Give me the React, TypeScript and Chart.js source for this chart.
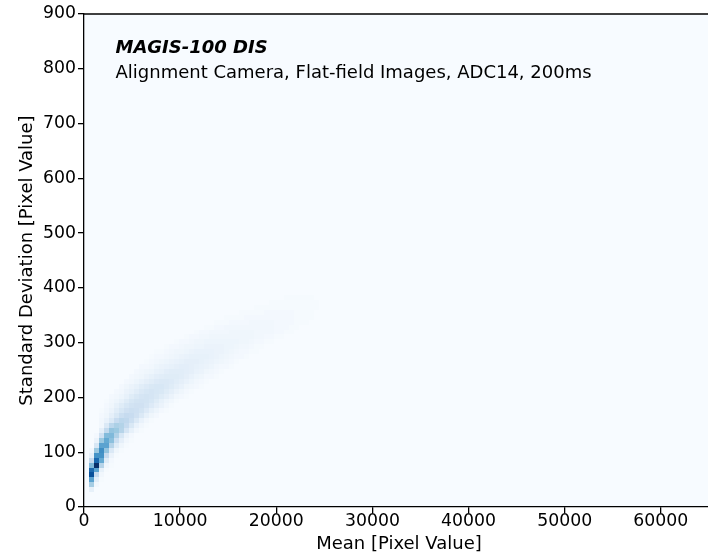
import React, { useEffect, useRef } from "react";
import { Chart, registerables } from "chart.js";

Chart.register(...registerables);

const FONT = "'DejaVu Sans', 'Liberation Sans', sans-serif";

// ---- axis ranges / ticks ----
const xAxisMin = 0;
const xAxisMax = 65535;
const yAxisMin = 0;
const yAxisMax = 900;
const xTickValues = [0, 10000, 20000, 30000, 40000, 50000, 60000];
const yTickValues = [0, 100, 200, 300, 400, 500, 600, 700, 800, 900];

// ---- 2D histogram bins ----
const meanBinWidth = 520; // Mean [Pixel Value] per bin
const stdBinWidth = 9; // Standard Deviation per bin

// index of each non-empty row of std bins
const rowStdBins = [
  3, 4, 5, 6, 7, 8, 9, 10, 11, 12, 13, 14, 15, 16, 17, 18, 19, 20, 21, 22,
  23, 24, 25, 26, 27, 28, 29, 30, 31, 32, 33, 34, 35, 36, 37, 38, 39, 40, 41, 42,
];
// first mean bin index that holds a value in each row
const rowFirstMeanBins = [
  1, 1, 1, 1, 1, 1, 1, 1, 1, 2, 2, 2, 3, 3, 3, 3, 3, 4, 4, 5,
  6, 7, 8, 9, 10, 11, 12, 13, 14, 16, 18, 20, 22, 24, 26, 28, 31, 34, 37, 40,
];
// relative counts (percent of the peak bin), consecutive mean bins from rowFirstMeanBins
const rowCounts = [
  [8],
  [35, 3],
  [55, 10, 1],
  [88, 25, 3],
  [78, 55, 8, 1],
  [45, 100, 30, 4, 1],
  [25, 78, 52, 12, 2],
  [8, 62, 62, 25, 6, 1],
  [3, 38, 64, 40, 14, 4, 1],
  [16, 55, 55, 30, 12, 4, 1],
  [6, 38, 52, 42, 22, 9, 3, 1],
  [2, 20, 44, 45, 32, 16, 6, 2],
  [9, 26, 40, 38, 30, 17, 8, 3, 1],
  [3, 14, 28, 33, 31, 25, 15, 7, 3, 1],
  [3, 7, 14, 24, 28, 27, 22, 14, 7, 3, 1],
  [2, 4, 9, 15, 22, 25, 24, 20, 14, 8, 4, 2],
  [1, 3, 6, 11, 16, 20, 22, 21, 18, 13, 8, 5, 2, 1],
  [2, 4, 8, 12, 16, 19, 20, 20, 17, 13, 9, 6, 3, 1],
  [1, 3, 5, 8, 12, 16, 18, 19, 18, 16, 12, 8, 5, 3, 1],
  [2, 3, 5, 8, 12, 15, 17, 18, 17, 15, 12, 9, 6, 3, 2, 1],
  [2, 3, 6, 8, 11, 14, 16, 17, 16, 15, 12, 9, 6, 4, 2, 1],
  [2, 4, 6, 8, 11, 13, 15, 16, 16, 14, 12, 9, 7, 4, 3, 2, 1],
  [2, 3, 5, 7, 9, 11, 13, 14, 14, 13, 11, 9, 7, 5, 3, 2, 1],
  [2, 3, 4, 6, 8, 10, 11, 12, 12, 12, 11, 9, 7, 5, 4, 2, 2, 1],
  [2, 3, 4, 5, 7, 8, 10, 11, 11, 11, 10, 9, 7, 6, 4, 3, 2, 1],
  [2, 2, 3, 5, 6, 7, 8, 9, 10, 10, 9, 8, 7, 6, 5, 3, 2, 2, 1],
  [1, 2, 3, 4, 5, 6, 7, 8, 9, 9, 9, 8, 7, 6, 5, 4, 3, 2, 1],
  [1, 2, 2, 3, 4, 5, 6, 7, 8, 8, 8, 8, 7, 6, 5, 4, 3, 2, 2, 1],
  [1, 1, 2, 3, 4, 4, 5, 6, 7, 7, 7, 7, 6, 6, 5, 4, 3, 2, 2, 1, 1],
  [1, 2, 2, 3, 4, 4, 5, 5, 6, 6, 6, 6, 5, 5, 4, 3, 3, 2, 1, 1],
  [1, 2, 2, 3, 4, 4, 5, 5, 5, 5, 5, 5, 5, 4, 4, 3, 2, 2, 1, 1],
  [1, 2, 2, 3, 3, 4, 4, 4, 4, 4, 4, 4, 4, 4, 3, 3, 2, 2, 1, 1],
  [1, 2, 2, 3, 3, 3, 3, 4, 4, 4, 4, 4, 3, 3, 3, 3, 2, 2, 1, 1],
  [1, 1, 2, 2, 3, 3, 3, 3, 3, 3, 3, 3, 3, 3, 2, 2, 2, 1, 1],
  [1, 1, 1, 2, 2, 2, 2, 3, 3, 3, 3, 3, 2, 2, 2, 2, 1, 1, 1],
  [1, 1, 1, 1, 2, 2, 2, 2, 2, 2, 2, 2, 2, 2, 1, 1, 1, 1],
  [1, 1, 1, 1, 1, 2, 2, 2, 2, 2, 2, 1, 1, 1, 1],
  [1, 1, 1, 1, 1, 1, 1, 1, 1, 1, 1, 1, 1],
  [1, 1, 1, 1, 1, 1, 1, 1, 1, 1],
  [1, 1, 1, 1, 1, 1],
];

// ---- texts ----
const titleText = "MAGIS-100 DIS";
const subtitleText = "Alignment Camera, Flat-field Images, ADC14, 200ms";
const xTitle = "Mean [Pixel Value]";
const yTitle = "Standard Deviation [Pixel Value]";

// matplotlib "Blues" anchor colours
const BLUES: number[][] = [
  [247, 251, 255],
  [222, 235, 247],
  [198, 219, 239],
  [158, 202, 225],
  [107, 174, 214],
  [66, 146, 198],
  [33, 113, 181],
  [8, 81, 156],
  [8, 48, 107],
];

function bluesColor(t: number): string {
  const s = Math.min(Math.max(t, 0), 1) * 8;
  const i = Math.min(Math.floor(s), 7);
  const f = s - i;
  const a = BLUES[i];
  const b = BLUES[i + 1];
  const r = Math.round(a[0] + (b[0] - a[0]) * f);
  const g = Math.round(a[1] + (b[1] - a[1]) * f);
  const bl = Math.round(a[2] + (b[2] - a[2]) * f);
  return `rgb(${r},${g},${bl})`;
}

type Cell = { x: number; y: number; v: number };

function buildCells(): Cell[] {
  const cells: Cell[] = [];
  rowStdBins.forEach((j, r) => {
    const first = rowFirstMeanBins[r];
    rowCounts[r].forEach((v, k) => {
      cells.push({
        x: (first + k + 0.5) * meanBinWidth,
        y: (j + 0.5) * stdBinWidth,
        v,
      });
    });
  });
  return cells;
}

const hist2dPlugin = {
  id: "hist2d",
  beforeDraw(chart: any) {
    const { ctx, chartArea: a } = chart;
    ctx.save();
    ctx.fillStyle = "#ffffff";
    ctx.fillRect(0, 0, chart.width, chart.height);
    ctx.fillStyle = bluesColor(0);
    ctx.fillRect(a.left, a.top, a.right - a.left, a.bottom - a.top);
    ctx.restore();
  },
  beforeDatasetsDraw(chart: any) {
    const { ctx, chartArea: a, scales } = chart;
    const xs = scales.x;
    const ys = scales.y;
    const data: Cell[] = chart.data.datasets[0].data;
    const vmax = Math.max(...data.map((d) => d.v));
    ctx.save();
    ctx.beginPath();
    ctx.rect(a.left, a.top, a.right - a.left, a.bottom - a.top);
    ctx.clip();
    for (const d of data) {
      const x0 = Math.round(xs.getPixelForValue(d.x - meanBinWidth / 2));
      const x1 = Math.round(xs.getPixelForValue(d.x + meanBinWidth / 2));
      const y0 = Math.round(ys.getPixelForValue(d.y + stdBinWidth / 2));
      const y1 = Math.round(ys.getPixelForValue(d.y - stdBinWidth / 2));
      ctx.fillStyle = bluesColor(d.v / vmax);
      ctx.fillRect(x0, y0, x1 - x0, y1 - y0);
    }
    ctx.restore();
  },
  afterDraw(chart: any) {
    const { ctx, chartArea: a } = chart;
    ctx.save();
    ctx.strokeStyle = "#000";
    ctx.lineWidth = 1.3;
    ctx.beginPath();
    ctx.moveTo(a.left - 0.65, a.top);
    ctx.lineTo(a.right, a.top);
    ctx.stroke();

    ctx.fillStyle = "#000";
    ctx.textAlign = "left";
    ctx.textBaseline = "alphabetic";
    const tx = a.left + 0.05 * (a.right - a.left);
    ctx.font = `italic bold 18px ${FONT}`;
    ctx.fillText(titleText, tx, a.top + 38.5);
    ctx.font = `18px ${FONT}`;
    ctx.fillText(subtitleText, tx, a.top + 63.5);
    ctx.restore();
  },
};

export default function App() {
  const canvasRef = useRef<HTMLCanvasElement | null>(null);

  useEffect(() => {
    document.body.style.margin = "0";
    const canvas = canvasRef.current;
    if (!canvas) return;
    const cells = buildCells();
    const tickFont = { family: FONT, size: 17.3, lineHeight: 1 };
    const titleFont = { family: FONT, size: 18, lineHeight: 1 };
    const chart = new Chart(canvas, {
      type: "scatter",
      data: {
        datasets: [
          {
            data: cells as any,
            pointRadius: 0,
            pointHoverRadius: 0,
            pointHitRadius: 0,
          },
        ],
      },
      plugins: [hist2dPlugin],
      options: {
        animation: false,
        responsive: false,
        devicePixelRatio: 1,
        events: [],
        layout: { padding: { top: 14, right: 0, bottom: 0, left: 0 } },
        plugins: {
          legend: { display: false },
          tooltip: { enabled: false },
        },
        scales: {
          x: {
            type: "linear",
            min: xAxisMin,
            max: xAxisMax,
            afterBuildTicks: (s: any) => {
              s.ticks = xTickValues.map((v) => ({ value: v }));
            },
            afterFit: (s: any) => {
              s.height = 47;
            },
            ticks: {
              autoSkip: false,
              maxRotation: 0,
              minRotation: 0,
              color: "#000",
              font: tickFont,
              padding: 0,
              callback: (v: any) => String(v),
            },
            grid: {
              drawOnChartArea: false,
              drawTicks: true,
              tickLength: 6,
              color: "#000",
              lineWidth: 1.3,
            },
            border: { display: true, color: "#000", width: 1.3 },
            title: {
              display: true,
              text: xTitle,
              color: "#000",
              font: titleFont,
              padding: { top: 0, bottom: 0.2 },
            },
          },
          y: {
            type: "linear",
            min: yAxisMin,
            max: yAxisMax,
            afterBuildTicks: (s: any) => {
              s.ticks = yTickValues.map((v) => ({ value: v }));
            },
            afterFit: (s: any) => {
              s.width = 84;
            },
            ticks: {
              autoSkip: false,
              color: "#000",
              font: tickFont,
              padding: 2,
              callback: (v: any) => String(v),
            },
            grid: {
              drawOnChartArea: false,
              drawTicks: true,
              tickLength: 6,
              color: "#000",
              lineWidth: 1.3,
            },
            border: { display: true, color: "#000", width: 1.3 },
            title: {
              display: true,
              text: yTitle,
              color: "#000",
              font: titleFont,
              padding: { top: 18, bottom: 0 },
            },
          },
        },
      },
    });
    return () => chart.destroy();
  }, []);

  return (
    <div style={{ width: 708, height: 554, overflow: "hidden", background: "#fff" }}>
      <canvas ref={canvasRef} width={714} height={554} style={{ display: "block" }} />
    </div>
  );
}
